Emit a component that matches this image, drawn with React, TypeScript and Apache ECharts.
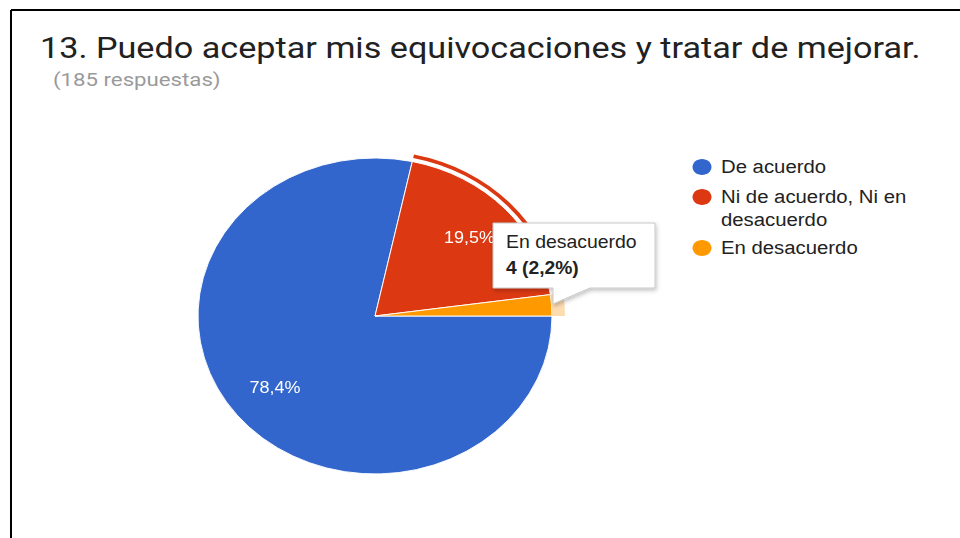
import React, { useEffect, useRef } from 'react';
import * as echarts from 'echarts';

const TITLE = '13. Puedo aceptar mis equivocaciones y tratar de mejorar.';
const SUBTITLE = '(185 respuestas)';
const categories = ['De acuerdo', 'Ni de acuerdo, Ni en desacuerdo', 'En desacuerdo'];
const legendLines = [['De acuerdo'], ['Ni de acuerdo, Ni en', 'desacuerdo'], ['En desacuerdo']];
const values = [145, 36, 4];
const colors = ['#3366cc', '#dc3912', '#ff9900'];
const highlightColors = ['rgba(0,0,0,0)', '#dc3912', '#fddcb0'];
const tooltipIndex = 2;

const total = values.reduce((a, b) => a + b, 0);
const pct = (v: number) => ((v / total) * 100).toFixed(1).replace('.', ',') + '%';

const CX = 375;
const CY = 316;
const R = 177;
const RY = 158;

export default function App() {
  const pieRef = useRef<HTMLDivElement>(null);
  const mainRef = useRef<HTMLDivElement>(null);

  useEffect(() => {
    const pie = echarts.init(pieRef.current!, null, { renderer: 'svg' });
    const main = echarts.init(mainRef.current!, null, { renderer: 'svg' });

    const base = categories.map((name, i) => ({ name, value: values[i] }));

    pie.setOption({
      animation: false,
      series: [
        {
          type: 'pie',
          center: [CX, CY],
          radius: [0, R],
          startAngle: 0,
          clockwise: true,
          silent: true,
          label: { show: false },
          labelLine: { show: false },
          data: base.map((d, i) => ({
            ...d,
            itemStyle: { color: colors[i], borderColor: '#ffffff', borderWidth: 1 },
          })),
        },
        {
          type: 'pie',
          center: [CX, CY],
          radius: [R + 4, R + 8],
          startAngle: 0,
          silent: true,
          label: { show: false },
          labelLine: { show: false },
          data: base.map((d, i) => ({
            ...d,
            itemStyle: { color: i === 1 ? highlightColors[1] : 'rgba(0,0,0,0)', borderWidth: 0 },
          })),
        },
        {
          type: 'pie',
          center: [CX, CY],
          radius: [R, R + 13],
          startAngle: 0,
          silent: true,
          label: { show: false },
          labelLine: { show: false },
          data: base.map((d, i) => ({
            ...d,
            itemStyle: { color: i === tooltipIndex ? highlightColors[2] : 'rgba(0,0,0,0)', borderWidth: 0 },
          })),
        },
        {
          type: 'pie',
          center: [CX, CY],
          radius: [R * 0.42, R],
          startAngle: 0,
          silent: true,
          minShowLabelAngle: 10,
          itemStyle: { color: 'rgba(0,0,0,0)' },
          label: {
            show: true,
            position: 'inside',
            color: '#ffffff',
            fontFamily: 'Arial, Liberation Sans, sans-serif',
            fontSize: 18,
            formatter: (p: any) => pct(p.value),
          },
          labelLine: { show: false },
          data: base,
        },
      ],
    });

    const graphics: any[] = [];
    graphics.push({ type: 'line', shape: { x1: 11, y1: 10, x2: 960, y2: 10 }, style: { stroke: '#000', lineWidth: 2 } });
    graphics.push({ type: 'line', shape: { x1: 11, y1: 10, x2: 11, y2: 538 }, style: { stroke: '#000', lineWidth: 2 } });
    graphics.push({
      type: 'text', x: 40, y: 48, scaleX: 1.14,
      style: { text: TITLE, fill: '#212121', font: '30px Roboto, Arial, sans-serif', verticalAlign: 'middle' },
    });
    graphics.push({
      type: 'text', x: 53, y: 80, scaleX: 1.17,
      style: { text: SUBTITLE, fill: '#9a9a9a', font: '19px Roboto, Arial, sans-serif', verticalAlign: 'middle' },
    });

    // legend
    const legendY = [167, 197, 248];
    legendLines.forEach((lines, i) => {
      graphics.push({
        type: 'ellipse',
        shape: { cx: 702, cy: legendY[i], rx: 9.5, ry: 8 },
        style: { fill: colors[i] },
      });
      lines.forEach((t, j) => {
        graphics.push({
          type: 'text', x: 721, y: legendY[i] + j * 23, scaleX: 1.13,
          style: { text: t, fill: '#222222', font: '18px Arial, Liberation Sans, sans-serif', verticalAlign: 'middle' },
        });
      });
    });

    // tooltip
    graphics.push({
      type: 'polygon',
      shape: {
        points: [[493, 223], [655, 223], [655, 288], [590, 288], [553, 304], [553, 288], [493, 288]],
      },
      style: {
        fill: '#ffffff', stroke: '#c8c8c8', lineWidth: 1,
        shadowBlur: 4, shadowColor: 'rgba(0,0,0,0.25)', shadowOffsetX: 1, shadowOffsetY: 2,
      },
    });
    graphics.push({
      type: 'text', x: 506, y: 242, scaleX: 1.08,
      style: { text: categories[tooltipIndex], fill: '#222222', font: '18px Arial, Liberation Sans, sans-serif', verticalAlign: 'middle' },
    });
    graphics.push({
      type: 'text', x: 506, y: 268, scaleX: 1.07,
      style: {
        text: `${values[tooltipIndex]} (${pct(values[tooltipIndex])})`,
        fill: '#222222', font: 'bold 18px Arial, Liberation Sans, sans-serif', verticalAlign: 'middle',
      },
    });

    main.setOption({ animation: false, graphic: graphics });

    return () => {
      pie.dispose();
      main.dispose();
    };
  }, []);

  return (
    <div style={{ position: 'absolute', left: 0, top: 0, width: 960, height: 538, background: '#fff', overflow: 'hidden' }}>
      <div
        ref={pieRef}
        style={{
          position: 'absolute', left: 0, top: 0, width: 960, height: 538,
          transform: `scaleY(${RY / R})`, transformOrigin: `0 ${CY}px`,
        }}
      />
      <div ref={mainRef} style={{ position: 'absolute', left: 0, top: 0, width: 960, height: 538, pointerEvents: 'none' }} />
    </div>
  );
}
